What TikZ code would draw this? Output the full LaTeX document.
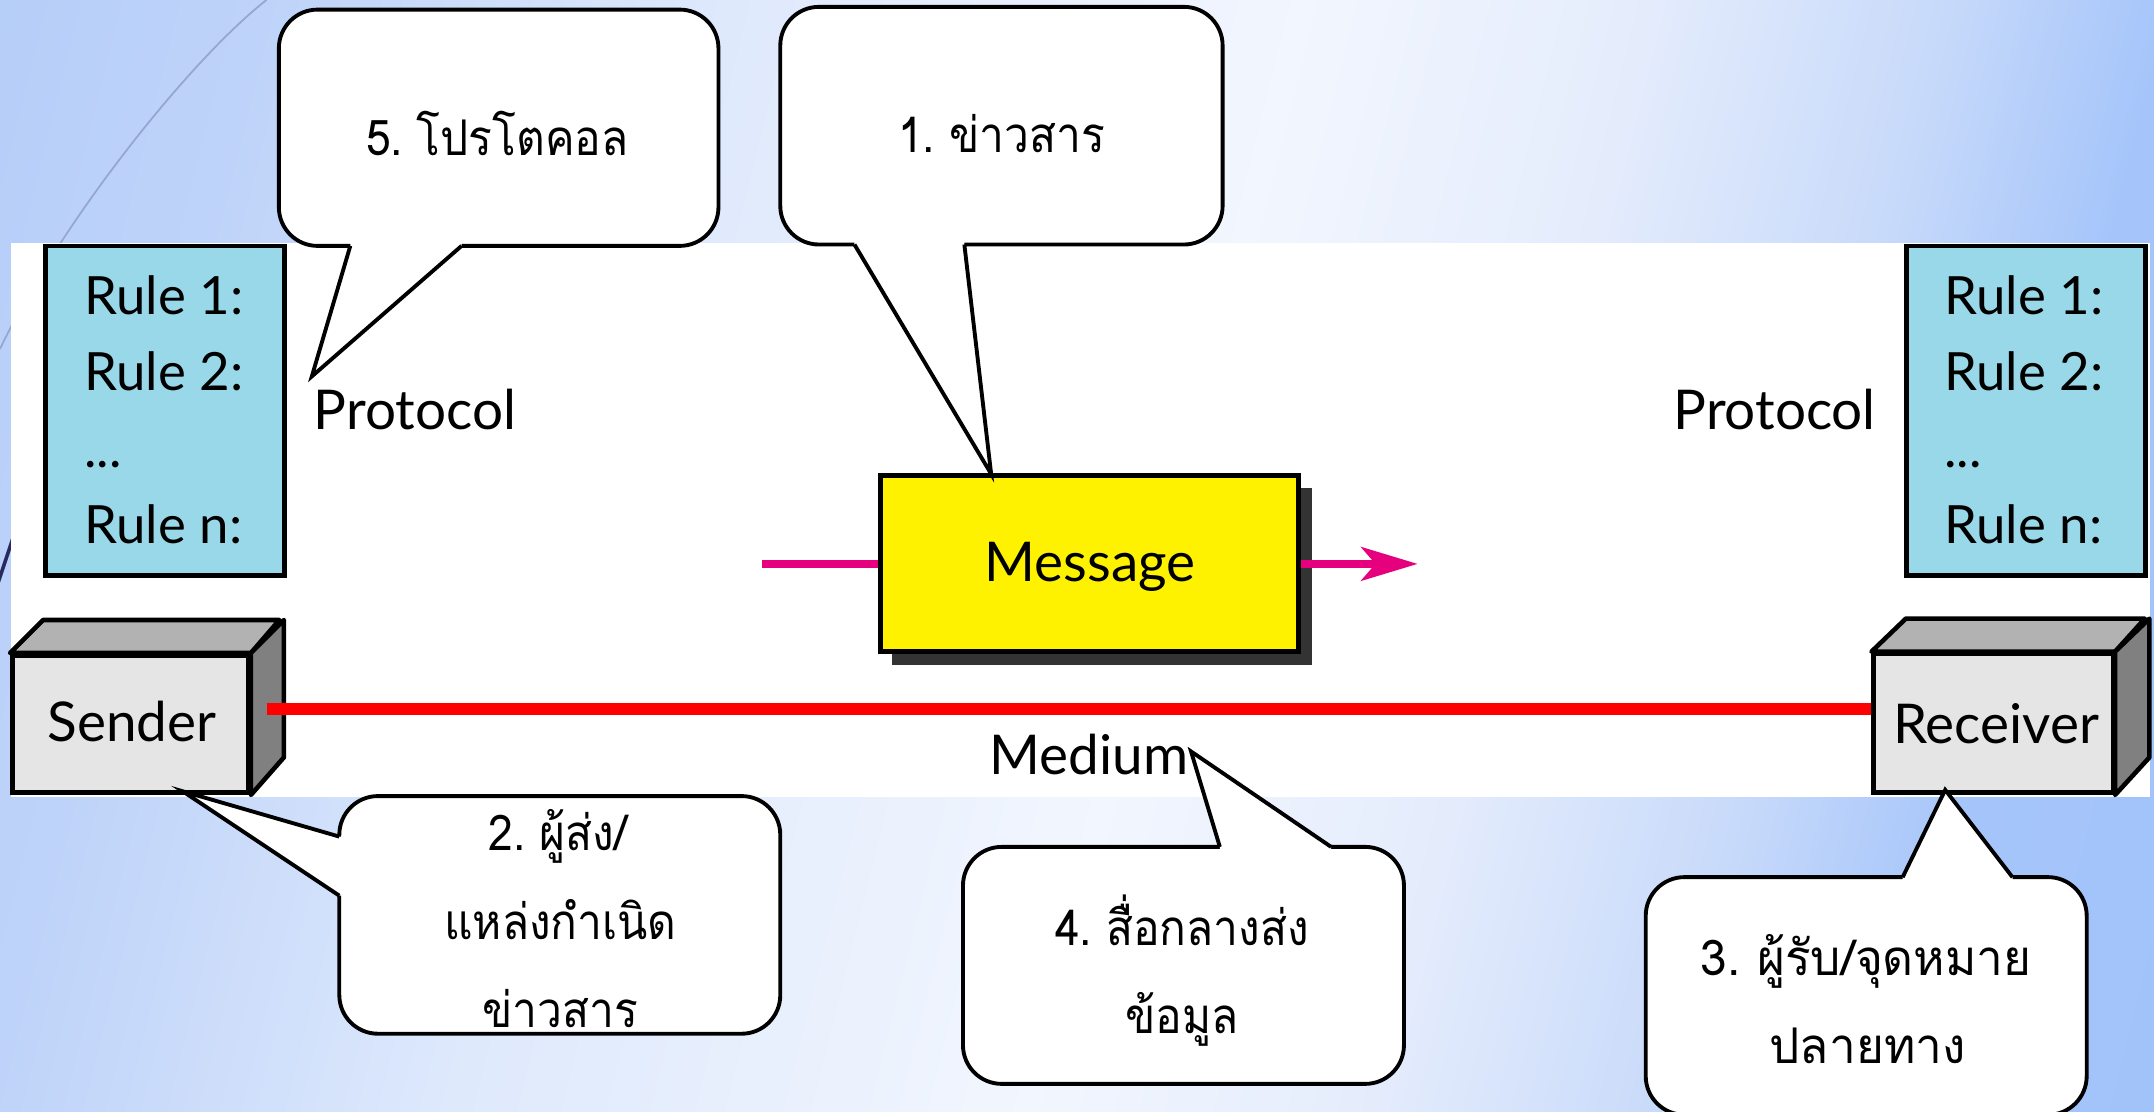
\documentclass[tikz,border=0pt]{standalone}
\usepackage{fontspec}
\setmainfont{Lato}
\newfontfamily\thaiA[Script=Thai, FakeStretch=0.9, WordSpace=0.6]{Loma}
\newfontfamily\thaiB[Script=Thai, FakeStretch=0.97, WordSpace=0.7]{Loma}
\usetikzlibrary{arrows.meta}
\definecolor{ruleblue}{RGB}{153,216,232}
\definecolor{boxfront}{RGB}{229,229,229}
\definecolor{boxtop}{RGB}{178,178,178}
\definecolor{boxside}{RGB}{128,128,128}
\definecolor{msgpink}{RGB}{230,0,126}
\definecolor{shadowgray}{RGB}{51,51,51}
\definecolor{arcline}{RGB}{150,165,210}
\definecolor{arcdark}{RGB}{40,42,95}
\definecolor{bgs1}{RGB}{178,204,248}
\definecolor{bgs2}{RGB}{190,211,249}
\definecolor{bgs3}{RGB}{222,233,252}
\definecolor{bgs4}{RGB}{242,246,254}
\definecolor{bgs5}{RGB}{228,236,252}
\definecolor{bgs6}{RGB}{200,218,250}
\definecolor{bgs7}{RGB}{165,197,250}
\definecolor{bgs8}{RGB}{158,193,250}
\pgfdeclarehorizontalshading{bgshade}{100bp}{color(0bp)=(bgs1); color(25bp)=(bgs1); color(32bp)=(bgs2); color(40bp)=(bgs3); color(50bp)=(bgs4); color(56bp)=(bgs5); color(61bp)=(bgs6); color(65bp)=(bgs7); color(75bp)=(bgs8); color(100bp)=(bgs8)}
\newcommand\callptr[5]{%
  \fill[white] (#1) -- (#2) -- (#3) -- ([shift={(#4,#5)}]#3) -- ([shift={(#4,#5)}]#1) -- cycle;
  \draw[line width=1.1pt, line join=miter] (#1) -- (#2) -- (#3);}
\begin{document}
\begin{tikzpicture}[x=0.013737cm, y=-0.013737cm,
  sz/.style 2 args={minimum width=#1*0.013737cm, minimum height=#2*0.013737cm},
  lat/.style={font=\fontsize{15.6pt}{18pt}\selectfont, inner sep=0pt},
  rl/.style={font=\fontsize{15pt}{18pt}\selectfont, inner sep=0pt},
  th/.style={font=\thaiA\fontsize{14pt}{17pt}\selectfont, inner sep=0pt},
  thb/.style={font=\thaiB\fontsize{14pt}{17pt}\selectfont, inner sep=0pt},
  callout/.style={draw=black, fill=white, line width=1.1pt, rounded corners=11pt, inner sep=0pt},
  rulebox/.style={draw=black, fill=ruleblue, line width=1.3pt, inner sep=0pt},
  front/.style={draw=black, fill=boxfront, line width=1.3pt, inner sep=0pt},
  face/.style={draw=black, line width=1.3pt, line join=round},
  medium/.style={red, line width=3.4pt},
  flow/.style={msgpink, line width=2.4pt},
]
\useasboundingbox (0,0) rectangle (1568,809);
% background
\begin{scope}
  \clip (0,0) rectangle (1568,809);
  \begin{scope}[transform canvas={xslant=0.25}]
    \shade[shading=bgshade] (-100,-10) rectangle (2000,820);
  \end{scope}
\end{scope}
\draw[arcline, line width=0.5pt] (194,0) .. controls (140,42) and (45,160) .. (0,254);
\draw[arcdark, line width=1pt] (16,372) -- (-4,432);
\fill[white] (8,177) rectangle (1565,580);

% rule boxes
\node[rulebox, sz={174}{240}] (rulesL) at (120,299) {};
\node[rl, anchor=base west] (rL1) at (61,229) {Rule 1:};
\node[rl, anchor=base west] (rL2) at (61,284.5) {Rule 2:};
\node[rl, anchor=base west] (rL3) at (61,340) {...};
\node[rl, anchor=base west] (rL4) at (61,395.5) {Rule n:};
\node[rulebox, sz={174}{240}] (rulesR) at (1475,299) {};
\node[rl, anchor=base west] (rR1) at (1415,229) {Rule 1:};
\node[rl, anchor=base west] (rR2) at (1415,284.5) {Rule 2:};
\node[rl, anchor=base west] (rR3) at (1415,340) {...};
\node[rl, anchor=base west] (rR4) at (1415,395.5) {Rule n:};
\node[lat, anchor=base west] (protL) at (228,313) {Protocol};
\node[lat, anchor=base east] (protR) at (1366,313) {Protocol};

% sender
\node[front, sz={172}{100}] (sender) at (95,527) {};
\filldraw[face, fill=boxtop] (sender.north west) -- ++(24,-24) -- ++(172,0) -- (sender.north east) -- cycle;
\filldraw[face, fill=boxside] (sender.north east) -- ++(24,-24) -- ++(0,100) -- (sender.south east) -- cycle;
\node[lat, anchor=base] (senderT) at (96,540) {Sender};
% receiver
\node[front, sz={174}{101}] (receiver) at (1451,526.5) {};
\filldraw[face, fill=boxtop] (receiver.north west) -- ++(25,-24) -- ++(174,0) -- (receiver.north east) -- cycle;
\filldraw[face, fill=boxside] (receiver.north east) -- ++(25,-24) -- ++(0,101) -- (receiver.south east) -- cycle;
\node[lat, anchor=base] (receiverT) at (1453,541) {Receiver};

% medium
\coordinate (medS) at (194,516);
\draw[medium] (medS) -- (medS -| receiver.west);
\node[lat, anchor=base west] (mediumT) at (720,564) {Medium};

% message
\fill[shadowgray] (649,355) rectangle (955,484);
\node[draw=black, fill=yellow, line width=1.4pt, sz={304}{128}, inner sep=0pt] (msg) at (793,410) {};
\node[lat, anchor=base] (msgT) at (793.5,423.5) {Message};
\coordinate (msgIn) at (555,410.5);
\coordinate (msgOut) at (1032,410.5);
\draw[flow] (msgIn) -- (msgIn -| msg.west);
\draw[flow, -{Stealth[length=16pt, width=9.5pt, inset=4pt]}] (msgIn -| msg.east) -- (msgOut);

% callout 5
\node[callout, sz={320}{172}] (c5) at (363,93) {};
\coordinate (c5a) at (255,179); \coordinate (c5tip) at (227,274); \coordinate (c5b) at (336,179);
\callptr{c5a}{c5tip}{c5b}{0}{-5}
\node[th, anchor=base] (t5) at (362,113) {5. โปรโตคอล};
% callout 1
\node[callout, sz={322}{173}] (c1) at (729,91.5) {};
\coordinate (c1a) at (622,178); \coordinate (c1tip) at (721.5,345); \coordinate (c1b) at (702,178);
\callptr{c1a}{c1tip}{c1b}{0}{-5}
\node[th, anchor=base] (t1) at (729,111) {1. ข่าวสาร};
% callout 2
\node[callout, sz={321}{173}] (c2) at (407.5,666) {};
\coordinate (c2a) at (247,609); \coordinate (c2tip) at (133,576); \coordinate (c2b) at (247,652);
\callptr{c2a}{c2tip}{c2b}{5}{0}
\node[th, anchor=base] (t2a) at (406,619) {2. ผู้ส่ง/};
\node[th, anchor=base] (t2b) at (408,684) {แหล่งกำเนิด};
\node[th, anchor=base] (t2c) at (408,748) {ข่าวสาร};
% callout 4
\node[callout, sz={321}{172.5}] (c4) at (861.5,702.75) {};
\coordinate (c4a) at (888,616.5); \coordinate (c4tip) at (867,547); \coordinate (c4b) at (969,616.5);
\callptr{c4a}{c4tip}{c4b}{0}{5}
\node[th, anchor=base] (t4a) at (860.5,688) {4. สื่อกลางส่ง};
\node[th, anchor=base] (t4b) at (860.5,752) {ข้อมูล};
% callout 3
\node[callout, sz={321}{173}] (c3) at (1358.5,725) {};
\coordinate (c3a) at (1385,638.6); \coordinate (c3tip) at (1416,575); \coordinate (c3b) at (1465,638.6);
\callptr{c3a}{c3tip}{c3b}{0}{5}
\node[thb, anchor=base] (t3a) at (1358.5,710) {3. ผู้รับ/จุดหมาย};
\node[thb, anchor=base] (t3b) at (1359.5,774) {ปลายทาง};
\end{tikzpicture}
\end{document}
